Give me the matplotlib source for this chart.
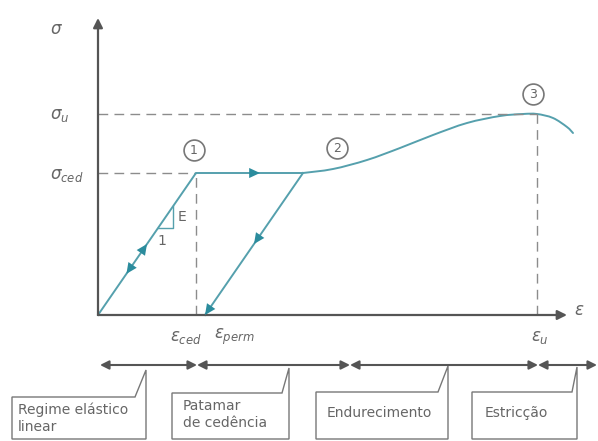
import numpy as np
import matplotlib
matplotlib.use('Agg')
import matplotlib.pyplot as plt
from matplotlib.patches import Polygon, PathPatch
from matplotlib.path import Path

# ─── Curve data (strain, stress) in diagram units ───
eps_ced = 0.98
eps_perm = 1.07
eps_plateau_end = 2.05
eps_u = 4.39
sig_ced = 1.42
sig_u = 2.01

# hardening + necking branch, read point by point
hard_eps = [2.05, 2.35, 2.69, 3.02, 3.35, 3.69, 4.02, 4.25, 4.39, 4.55, 4.69, 4.75]
hard_sig = [1.42, 1.46, 1.55, 1.67, 1.80, 1.92, 1.99, 2.01, 2.01, 1.97, 1.88, 1.82]

# stage boundaries along the strain axis
stage_edges = [0.02, 0.99, 2.52, 4.40, 4.99]
stage_names = ["Regime elástico\nlinear", "Patamar\nde cedência",
               "Endurecimento", "Estricção"]

TEAL = '#55a0ad'
TEAL_DARK = '#2b8c9d'
GREY = '#555555'
DASH = '#8c8c8c'
TXT = '#666666'

fig = plt.figure(figsize=(5.98, 4.41), dpi=100)
ax = fig.add_axes([0, 0, 1, 1])
ax.set_xlim(-0.98, 5.00)
ax.set_ylim(-1.26, 3.15)
ax.axis('off')


def head(p_from, p_to, color=TEAL_DARK, size=13):
    ax.annotate('', xy=p_to, xytext=p_from,
                arrowprops=dict(arrowstyle='-|>,head_length=0.6,head_width=0.28',
                                color=color, lw=0,
                                mutation_scale=size, shrinkA=0, shrinkB=0))


def smooth_path(xs, ys):
    # Catmull-Rom through the points, emitted as cubic Bezier segments
    pts = np.column_stack([xs, ys])
    verts = [pts[0]]
    codes = [Path.MOVETO]
    for i in range(len(pts) - 1):
        p0 = pts[i - 1] if i > 0 else pts[i]
        p1, p2 = pts[i], pts[i + 1]
        p3 = pts[i + 2] if i + 2 < len(pts) else pts[i + 1]
        verts += [p1 + (p2 - p0) / 6, p2 - (p3 - p1) / 6, p2]
        codes += [Path.CURVE4] * 3
    return Path(verts, codes)


# axes with arrows
ax.annotate('', xy=(0, 2.97), xytext=(0, 0),
            arrowprops=dict(arrowstyle='-|>', color=GREY, lw=1.6,
                            mutation_scale=14, shrinkA=0, shrinkB=0))
ax.annotate('', xy=(4.69, 0), xytext=(0, 0),
            arrowprops=dict(arrowstyle='-|>', color=GREY, lw=1.6,
                            mutation_scale=14, shrinkA=0, shrinkB=0))

# reference dashes
ds = (0, (7, 4.5))
ax.plot([0, eps_u], [sig_u, sig_u], color=DASH, lw=1, ls=ds)
ax.plot([0, eps_ced], [sig_ced, sig_ced], color=DASH, lw=1, ls=ds)
ax.plot([eps_ced, eps_ced], [0, sig_ced], color=DASH, lw=1, ls=ds)
ax.plot([eps_u, eps_u], [0, sig_u], color=DASH, lw=1, ls=ds)

# loading path: elastic, plateau, hardening
ax.plot([0, eps_ced, eps_plateau_end], [0, sig_ced, sig_ced], color=TEAL, lw=1.4,
        solid_joinstyle='miter')
ax.add_patch(PathPatch(smooth_path(hard_eps, hard_sig), fill=False,
                       ec=TEAL, lw=1.4, capstyle='round'))

# unloading line
ax.plot([eps_plateau_end, eps_perm], [sig_ced, 0], color=TEAL, lw=1.4)

# direction marks
d_el = np.array([eps_ced, sig_ced]) / np.hypot(eps_ced, sig_ced)
p = np.array([eps_ced, sig_ced]) * 0.50
head(p - d_el * 0.12, p)
p = np.array([eps_ced, sig_ced]) * 0.29
head(p + d_el * 0.12, p)
head((1.48, sig_ced), (1.62, sig_ced))
d_un = np.array([eps_perm - eps_plateau_end, -sig_ced])
d_un = d_un / np.hypot(*d_un)
p = np.array([eps_plateau_end, sig_ced]) + d_un * 0.50 * np.hypot(eps_perm - eps_plateau_end, sig_ced)
head(p - d_un * 0.12, p)
head(np.array([eps_perm, 0]) - d_un * 0.13, (eps_perm, 0))

# slope triangle
ax.plot([0.60, 0.75, 0.75], [0.87, 0.87, 1.087], color=TEAL, lw=1.0)
ax.text(0.80, 0.98, 'E', color=TXT, fontsize=10, ha='left', va='center')
ax.text(0.64, 0.74, '1', color=TXT, fontsize=10, ha='center', va='center')

# point markers ① ② ③
for (x, y, n) in [(0.96, 1.65, '1'), (2.39, 1.67, '2'), (4.35, 2.21, '3')]:
    ax.plot(x, y, 'o', ms=15, mfc='white', mec='#777777', mew=1.2)
    ax.text(x, y - 0.005, n, color='#666666', fontsize=9, ha='center', va='center')

# axis labels
ax.text(-0.48, 2.86, r'$\sigma$', color=TXT, fontsize=12, ha='left', va='center')
ax.text(-0.48, 2.00, r'$\sigma_{u}$', color=TXT, fontsize=12, ha='left', va='center')
ax.text(-0.48, 1.40, r'$\sigma_{ced}$', color=TXT, fontsize=12, ha='left', va='center')
ax.text(4.76, 0.05, r'$\varepsilon$', color=TXT, fontsize=12, ha='left', va='center')
ax.text(0.72, -0.22, r'$\varepsilon_{ced}$', color=TXT, fontsize=12, ha='left', va='center')
ax.text(1.16, -0.22, r'$\varepsilon_{perm}$', color=TXT, fontsize=12, ha='left', va='center')
ax.text(4.33, -0.22, r'$\varepsilon_{u}$', color=TXT, fontsize=12, ha='left', va='center')

# stage arrows
y_stage = -0.50
for a, b in zip(stage_edges[:-1], stage_edges[1:]):
    ax.annotate('', xy=(b, y_stage), xytext=(a, y_stage),
                arrowprops=dict(arrowstyle='<|-|>', color=GREY, lw=1.5,
                                mutation_scale=13, shrinkA=0, shrinkB=0),
                annotation_clip=False)

# callout boxes: left, shoulder, tip x, tip y, top
boxes = [(-0.86, 0.37, 0.48, -0.55, -0.82),
         (0.74, 1.84, 1.91, -0.53, -0.78),
         (2.18, 3.40, 3.50, -0.51, -0.77),
         (3.74, 4.74, 4.79, -0.52, -0.77)]
bottom = -1.24
for (l, s, tx, ty, t) in boxes:
    ax.add_patch(Polygon([(l, bottom), (l, t), (s, t), (tx, ty), (tx, bottom)],
                         closed=True, fill=False, ec='#777777', lw=1.0))

ax.text(-0.80, -0.875, stage_names[0], color=TXT, fontsize=10, ha='left', va='top',
        linespacing=1.3)
ax.text(0.85, -0.835, stage_names[1], color=TXT, fontsize=10, ha='left', va='top',
        linespacing=1.3)
ax.text(2.81, -0.98, stage_names[2], color=TXT, fontsize=10, ha='center', va='center')
ax.text(4.18, -0.98, stage_names[3], color=TXT, fontsize=10, ha='center', va='center')

fig.savefig('out.png', dpi=100)
